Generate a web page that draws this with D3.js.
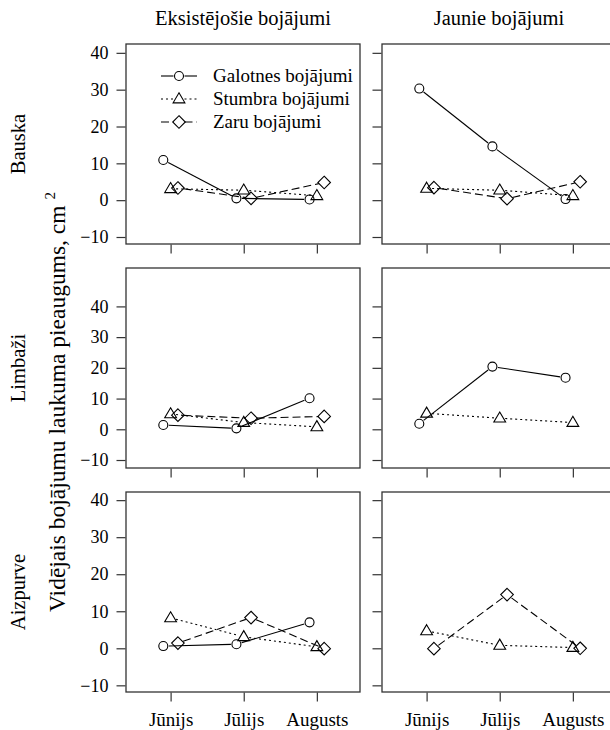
<!DOCTYPE html>
<html>
<head>
<meta charset="utf-8">
<script src="https://cdn.jsdelivr.net/npm/d3@7"></script>
<style>
  html, body { margin: 0; padding: 0; background: #fff; }
  svg { display: block; }
  svg text { font-family: "Liberation Serif", Tinos, "Times New Roman", "DejaVu Serif", serif !important; fill: #000; }
</style>
</head>
<body>
<svg id="chart" width="610" height="730"></svg>
<script>
// ---------- data ----------
const months = ["Jūnijs", "Jūlijs", "Augusts"];
const sites = ["Bauska", "Limbaži", "Aizpurve"];
const damageKinds = ["Eksistējošie bojājumi", "Jaunie bojājumi"];
const seriesNames = ["Galotnes bojājumi", "Stumbra bojājumi", "Zaru bojājumi"];
const yTickValues = [-10, 0, 10, 20, 30, 40];
const yTitle = "Vidējais bojājumu laukuma pieaugums, cm";
const yTitleSup = "2";

// values per site (Bauska, Limbaži, Aizpurve) for Jūnijs, Jūlijs, Augusts; null = not shown
const galotnesExisting = [[10.9, 0.5, 0.2], [1.4, 0.3, 10.1], [0.6, 1.1, 7.0]];
const galotnesNew      = [[30.3, 14.6, 0.3], [1.8, 20.4, 16.8], null];
const stumbraExisting  = [[3.1, 2.7, 1.2], [5.0, 2.2, 0.8], [8.2, 3.1, 0.4]];
const stumbraNew       = [[3.2, 2.7, 1.2], [5.2, 3.6, 2.2], [4.7, 0.8, 0.2]];
const zaruExisting     = [[3.3, 0.5, 4.8], [4.6, 3.6, 4.2], [1.4, 8.3, -0.1]];
const zaruNew          = [[3.4, 0.4, 5.0], null, [-0.1, 14.5, 0.0]];

// ---------- layout ----------
const svg = d3.select("#chart");
const colX = [126, 382];
const panelW = 234;
const rowY = [44, 268, 492];
const panelH = 200;
const rowDomains = [[-11.9, 42.4], [-12.6, 52.5], [-11.8, 42.2]];
const xDomain = [0.39, 3.59];
const offsets = [-0.1, 0, 0.1];
const dashes = [null, "2,3", "8,4"];
const ink = "#000";
const frame = "#333";
const FONT = '"Liberation Serif", Tinos, "Times New Roman", "DejaVu Serif", serif';

const panelData = [
  [galotnesExisting, stumbraExisting, zaruExisting],
  [galotnesNew, stumbraNew, zaruNew]
];

function marker(g, type, x, y) {
  if (type === 0) {
    g.append("circle").attr("cx", x).attr("cy", y).attr("r", 4.5)
      .attr("fill", "none").attr("stroke", ink).attr("stroke-width", 1.1);
  } else if (type === 1) {
    const s = 6.2;
    g.append("path")
      .attr("d", `M${x},${y - s} L${x + s * 0.95},${y + s * 0.62} L${x - s * 0.95},${y + s * 0.62} Z`)
      .attr("fill", "none").attr("stroke", ink).attr("stroke-width", 1.1);
  } else {
    const s = 6.3;
    g.append("path")
      .attr("d", `M${x},${y - s} L${x + s},${y} L${x},${y + s} L${x - s},${y} Z`)
      .attr("fill", "none").attr("stroke", ink).attr("stroke-width", 1.1);
  }
}

function gapSegment(g, x1, y1, x2, y2, dash, gap) {
  const dx = x2 - x1, dy = y2 - y1;
  const len = Math.hypot(dx, dy);
  if (len <= 2 * gap) return;
  const ux = dx / len, uy = dy / len;
  const ln = g.append("line")
    .attr("x1", x1 + ux * gap).attr("y1", y1 + uy * gap)
    .attr("x2", x2 - ux * gap).attr("y2", y2 - uy * gap)
    .attr("stroke", ink).attr("stroke-width", 1.1);
  if (dash) ln.attr("stroke-dasharray", dash);
}

for (let c = 0; c < 2; c++) {
  for (let r = 0; r < 3; r++) {
    const x = d3.scaleLinear().domain(xDomain).range([colX[c], colX[c] + panelW]);
    const y = d3.scaleLinear().domain(rowDomains[r]).range([rowY[r] + panelH, rowY[r]]);
    const g = svg.append("g");

    // y axis
    const yAxis = d3.axisLeft(y).tickValues(yTickValues).tickSize(9).tickPadding(8)
      .tickFormat(c === 0 ? d3.format("d") : () => "");
    const ya = svg.append("g").attr("transform", `translate(${colX[c] - 0.5},0)`).call(yAxis)
      .attr("font-family", FONT);
    ya.select(".domain").remove();
    ya.selectAll("line").attr("stroke", frame).attr("stroke-width", 1.2);
    ya.selectAll("text").attr("font-size", 18).attr("fill", "#000");

    // x axis
    const xAxis = d3.axisBottom(x).tickValues([1, 2, 3]).tickSize(9).tickPadding(11)
      .tickFormat(r === 2 ? (d => months[d - 1]) : () => "");
    const xa = svg.append("g").attr("transform", `translate(0,${rowY[r] + panelH + 0.5})`).call(xAxis)
      .attr("font-family", FONT);
    xa.select(".domain").remove();
    xa.selectAll("line").attr("stroke", frame).attr("stroke-width", 1.2);
    xa.selectAll("text").attr("font-size", 19).attr("fill", "#000");

    // frame
    g.append("rect").attr("x", colX[c]).attr("y", rowY[r]).attr("width", panelW).attr("height", panelH)
      .attr("fill", "none").attr("stroke", frame).attr("stroke-width", 1.3);

    // series
    panelData[c].forEach((series, si) => {
      const vals = series[r];
      if (!vals) return;
      const pts = vals.map((v, i) => [x(i + 1 + offsets[si]), y(v)]);
      for (let i = 0; i < pts.length - 1; i++) {
        gapSegment(g, pts[i][0], pts[i][1], pts[i + 1][0], pts[i + 1][1], dashes[si], 5.5);
      }
      pts.forEach(p => marker(g, si, p[0], p[1]));
    });
  }
}

// column titles
damageKinds.forEach((t, c) => {
  svg.append("text").attr("x", colX[c] + panelW / 2).attr("y", 25)
    .attr("font-family", FONT)
    .attr("text-anchor", "middle").attr("font-size", 20.5).text(t);
});

// row labels
sites.forEach((s, r) => {
  svg.append("text")
    .attr("transform", `translate(25,${rowY[r] + panelH / 2}) rotate(-90)`)
    .attr("font-family", FONT)
    .attr("text-anchor", "middle").attr("font-size", 20.5).text(s);
});

// y title
const yt = svg.append("text")
  .attr("transform", `translate(65,402) rotate(-90)`)
  .attr("font-family", FONT)
  .attr("text-anchor", "middle").attr("font-size", 23.5);
yt.append("tspan").text(yTitle + " ");
yt.append("tspan").attr("font-size", 15).attr("dy", -10).text(yTitleSup);

// legend
const legX0 = 161, legX1 = 197, legMid = 179, legTextX = 213;
const legY = [76, 99, 122];
seriesNames.forEach((name, i) => {
  const lg = svg.append("g");
  gapSegment(lg, legX0 - 5.5, legY[i], legMid, legY[i], dashes[i], 5.5);
  gapSegment(lg, legMid, legY[i], legX1 + 5.5, legY[i], dashes[i], 5.5);
  marker(lg, i, legMid, legY[i]);
  lg.append("text").attr("x", legTextX).attr("y", legY[i] + 6)
    .attr("font-family", FONT).attr("font-size", 19).text(name);
});
</script>
</body>
</html>
